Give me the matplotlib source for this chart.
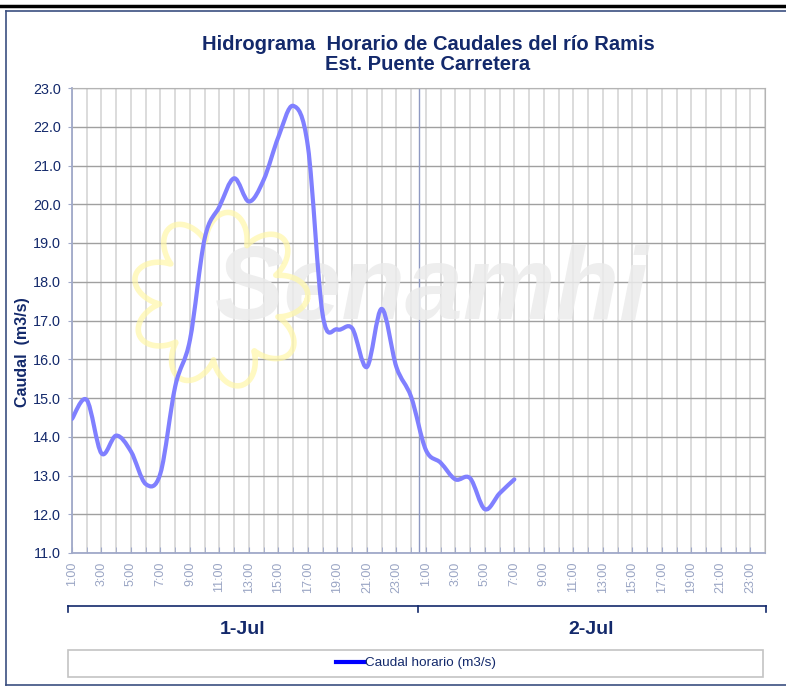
import numpy as np
import matplotlib
matplotlib.use("Agg")
import matplotlib.pyplot as plt
from matplotlib.path import Path
from matplotlib.patches import PathPatch, Rectangle
from matplotlib.lines import Line2D

plt.rcParams['font.family'] = ['Liberation Sans', 'DejaVu Sans']

# hourly discharge (m3/s), 1-Jul 1:00 onwards
caudal = [14.46, 14.95, 13.57, 14.03, 13.62, 12.78, 13.06, 15.30, 16.50, 19.12,
          19.94, 20.67, 20.07, 20.63, 21.74, 22.54, 21.49, 17.15, 16.77, 16.80,
          15.80, 17.30, 15.80, 15.03, 13.66, 13.33, 12.90, 12.93, 12.13, 12.54,
          12.90]
hour_labels = ["1:00", "3:00", "5:00", "7:00", "9:00", "11:00", "13:00", "15:00",
               "17:00", "19:00", "21:00", "23:00"]
days = ["1-Jul", "2-Jul"]
n_hours = 48

NAVY = '#13296b'
W, H = 786, 687


def fx(px):
    return px / W


def fy(py):
    return 1 - py / H


def smooth_path(xs, ys):
    # bezier curve through the points, like excel's "smoothed line"
    pts = np.column_stack([xs, ys]).astype(float)
    n = len(pts)
    verts = [pts[0]]
    codes = [Path.MOVETO]
    for i in range(n - 1):
        p0 = pts[max(i - 1, 0)]
        p1 = pts[i]
        p2 = pts[i + 1]
        p3 = pts[min(i + 2, n - 1)]
        verts += [p1 + (p2 - p0) / 6, p2 - (p3 - p1) / 6, p2]
        codes += [Path.CURVE4] * 3
    return Path(verts, codes)


fig = plt.figure(figsize=(W / 100, H / 100), dpi=100)
ax = fig.add_axes([fx(72), fy(553), (765 - 72) / W, (553 - 88) / H])

ax.set_xlim(0, n_hours - 1)
ax.set_ylim(11, 23)
ax.set_yticks(np.arange(11, 23.5, 1))
ax.set_yticklabels([f"{v:.1f}" for v in np.arange(11, 23.5, 1)])

ax.set_xticks(range(0, n_hours, 2))
ax.set_xticklabels(hour_labels * 2, rotation=90, va='top')
ax.set_xticks(range(1, n_hours, 2), minor=True)

ax.tick_params(axis='y', colors='#a0a9c9', labelcolor=NAVY, labelsize=10.4,
               length=3, direction='out', pad=5)
ax.tick_params(axis='x', which='both', colors='#a0a9c9', labelcolor='#9aa5c4',
               labelsize=9, length=4, direction='in', pad=6)

ax.set_axisbelow(True)
ax.grid(axis='y', color='#a0a0a0', lw=1)
ax.grid(axis='x', which='both', color='#dcdcdc', lw=1.4)
ax.axvline(23.5, color='#8e99c2', lw=1, zorder=0.8)

for s in ['top', 'right']:
    ax.spines[s].set_color('#b4b4b4')
for s in ['left', 'bottom']:
    ax.spines[s].set_color('#a0a9c9')
    ax.spines[s].set_linewidth(1.3)

# watermark
ax.text(fx(432), fy(292), 'Senamhi', transform=fig.transFigure, fontsize=75,
        fontweight='bold', style='italic', color='#ebebeb', alpha=0.85,
        ha='center', va='center', zorder=1)
th = np.linspace(0, 2 * np.pi, 600)
r = 60 + 28 * np.abs(np.cos(4.5 * th + 0.3)) ** 0.8
ax.add_line(Line2D(fx(220 + r * np.cos(th)), fy(300 + r * np.sin(th)),
                   transform=fig.transFigure, color='#fff7a8', lw=4,
                   alpha=0.7, zorder=1))

ax.add_patch(PathPatch(smooth_path(np.arange(len(caudal)), caudal), fill=False,
                       edgecolor='#8080ff', lw=3, capstyle='round',
                       joinstyle='round', zorder=3))

fig.text(fx(23), fy(352), 'Caudal  (m3/s)', rotation=90, fontsize=11.5,
         fontweight='bold', color=NAVY, ha='center', va='center')

fig.text(fx(428), fy(54.5), 'Hidrograma  Horario de Caudales del río Ramis\nEst. Puente Carretera',
         ha='center', va='center', fontsize=14.5, fontweight='bold', color=NAVY,
         linespacing=1.0)

# day level of the category axis
fig.add_artist(Line2D([fx(68), fx(766)], [fy(606), fy(606)], color=NAVY, lw=1.2))
for px in [68, 417.5, 766]:
    fig.add_artist(Line2D([fx(px), fx(px)], [fy(606), fy(612)], color=NAVY, lw=1.2))
fig.text(fx(242.5), fy(630), days[0], ha='center', va='center', fontsize=14,
         fontweight='bold', color=NAVY)
fig.text(fx(591.5), fy(630), days[1], ha='center', va='center', fontsize=14,
         fontweight='bold', color=NAVY)

# legend
fig.add_artist(Rectangle((fx(68), fy(677)), (763 - 68) / W, 27 / H,
                         transform=fig.transFigure, fill=False,
                         edgecolor='#c4c4c4', lw=1.2))
fig.legend(handles=[Line2D([], [], color='#0000ff', lw=3)],
           labels=['Caudal horario (m3/s)'], loc='center',
           bbox_to_anchor=(fx(416), fy(663)), frameon=False, fontsize=9.7,
           handlelength=2.1, handletextpad=0.1, labelcolor=NAVY)

# outer frame
fig.add_artist(Line2D([0, 1], [fy(5.5), fy(5.5)], color='black', lw=2.5))
fig.add_artist(Line2D([fx(6), 1], [fy(10.5), fy(10.5)], color='#3b4f80', lw=1.2))
fig.add_artist(Line2D([fx(6), fx(6)], [fy(10.5), fy(685)], color='#3b4f80', lw=1.2))
fig.add_artist(Line2D([fx(6), 1], [fy(685), fy(685)], color='#3b4f80', lw=1.2))

fig.savefig('out.png', dpi=100)
